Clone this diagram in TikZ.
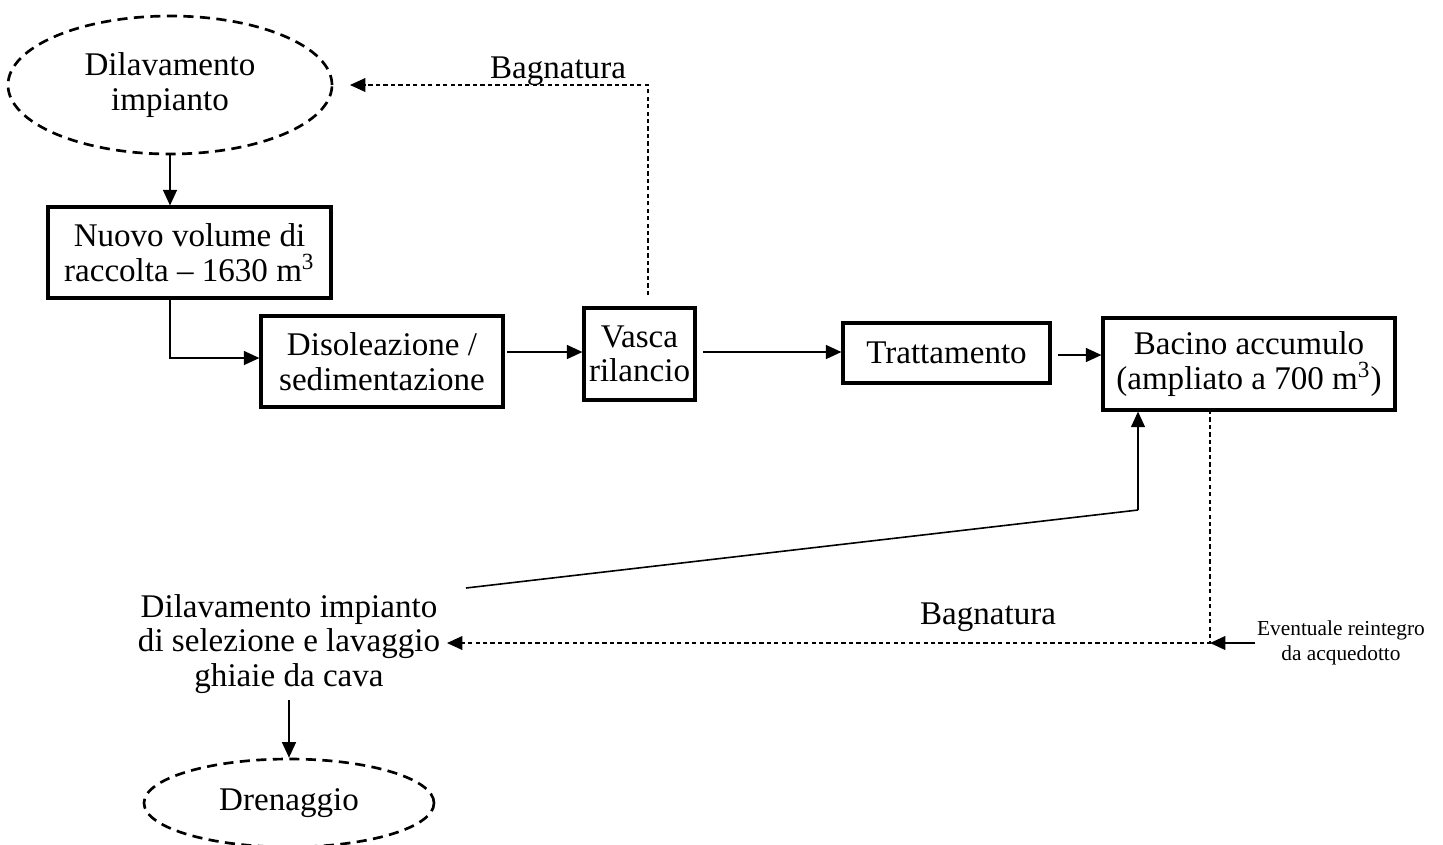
\documentclass[tikz,border=0pt]{standalone}
\usepackage{fontspec}
\setmainfont{Liberation Serif}
\usetikzlibrary{arrows.meta,shapes.geometric}
\begin{document}
\begin{tikzpicture}[x=0.375pt,y=-0.375pt,
  txt/.style={font=\fontsize{12.4}{12.9}\selectfont, align=center, inner sep=0pt},
  smalltxt/.style={font=\fontsize{8}{9.4}\selectfont, align=center, inner sep=0pt},
  stepbox/.style={txt, draw, line width=1.2pt},
  dashell/.style={txt, draw, ellipse, line width=1pt, dash pattern=on 3.8pt off 2.4pt},
  conn/.style={line width=0.6pt, -{Triangle[length=5.8pt,width=5.2pt]}},
  dconn/.style={line width=0.45pt, dash pattern=on 1.6pt off 1.2pt, -{Triangle[length=5.8pt,width=5.2pt]}},
  plain/.style={line width=0.6pt}
]
\useasboundingbox (0,0) rectangle (1443,844);

% nodes
\node[dashell, minimum width=121.5pt, minimum height=51.75pt] (ell1) at (170,85) {Dilavamento\\impianto};
\node[stepbox, minimum width=106.1pt, minimum height=34.1pt] (box1) at (189.5,252.5) {Nuovo volume di\\raccolta -- 1630 m\textsuperscript{3}};
\node[stepbox, minimum width=90.75pt, minimum height=34.1pt] (box2) at (382,361.5) {Disoleazione /\\sedimentazione};
\node[stepbox, minimum width=41.6pt, minimum height=34.5pt] (box3) at (639.5,354) {Vasca\\rilancio};
\node[stepbox, minimum width=77.6pt, minimum height=22.5pt] (box4) at (946.5,353) {Trattamento};
\node[stepbox, minimum width=109.5pt, minimum height=34.5pt] (box5) at (1249,364) {Bacino accumulo\\(ampliato a 700 m\textsuperscript{3})};
\node[txt] (dil2) at (289,644) {Dilavamento impianto\\di selezione e lavaggio\\ghiaie da cava};
\node[dashell, minimum width=108.75pt, minimum height=33pt] (dren) at (289,803) {Drenaggio};
\node[txt] (lab1) at (558,71) {Bagnatura};
\node[txt] (lab2) at (988,617) {Bagnatura};
\node[smalltxt] (reint) at (1341,643) {Eventuale reintegro\\da acquedotto};

% helper coordinates
\coordinate (vtop) at (648,295);
\coordinate (etip) at (350,85);
\coordinate (slA) at (466,588);
\coordinate (slB) at (1138,510);
\coordinate (bdown) at (1210,410);
\coordinate (jn) at (1210,643);
\coordinate (dtip) at (447,643);
\coordinate (rstart) at (1255,643);
\coordinate (d1) at (170,298);
\coordinate (d1b) at (170,358);
\coordinate (b2e) at (507,352);
\coordinate (b3e) at (703,352);
\coordinate (b4e) at (1058,355);
\coordinate (dtop) at (289,700);

% connectors
\draw[conn] (ell1.south) -- (ell1.south |- box1.north);
\draw[conn] (d1) -- (d1b) -- (d1b -| box2.west);
\draw[conn] (b2e) -- (b2e -| box3.west);
\draw[conn] (b3e) -- (b3e -| box4.west);
\draw[conn] (b4e) -- (b4e -| box5.west);
\draw[dconn] (vtop) |- (etip);
\draw[plain] (slA) -- (slB);
\draw[conn] (slB) -- (slB |- box5.south);
\draw[dconn] (bdown) -- (jn) -- (dtip);
\draw[conn] (rstart) -- (jn);
\draw[conn] (dtop) -- (dtop |- dren.north);
\end{tikzpicture}
\end{document}
